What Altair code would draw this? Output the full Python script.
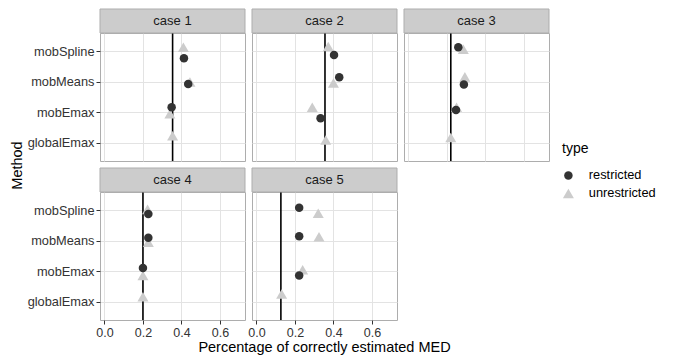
import altair as alt
import pandas as pd

# ---------------- data ----------------
cases = ["case 1", "case 2", "case 3", "case 4", "case 5"]
methods = ["globalEmax", "mobEmax", "mobMeans", "mobSpline"]   # bottom -> top
types = ["restricted", "unrestricted"]
ref_med = [0.354, 0.356, 0.22, 0.20, 0.127]

# unrestricted: one value per method (globalEmax, mobEmax, mobMeans, mobSpline)
unrestricted_value = [
    [0.354, 0.340, 0.444, 0.410],
    [0.360, 0.290, 0.400, 0.373],
    [0.220, 0.250, 0.293, 0.285],
    [0.200, 0.200, 0.228, 0.224],
    [0.131, 0.240, 0.325, 0.321],
]
unrestricted_jitter = [
    [0.23, -0.05, -0.01, 0.13],
    [0.09, 0.16, -0.04, 0.16],
    [0.17, 0.16, 0.16, 0.07],
    [0.16, -0.14, -0.05, 0.03],
    [0.25, 0.05, 0.13, -0.10],
]
# restricted: methods mobEmax, mobMeans, mobSpline (no globalEmax)
restricted_value = [
    [0.349, 0.435, 0.413],
    [0.333, 0.430, 0.403],
    [0.247, 0.288, 0.259],
    [0.200, 0.228, 0.228],
    [0.222, 0.222, 0.222],
]
restricted_jitter = [
    [0.16, -0.07, -0.23],
    [-0.20, 0.15, -0.12],
    [0.07, -0.09, 0.13],
    [0.11, 0.10, -0.12],
    [-0.14, 0.15, 0.08],
]
x_grid_values = [0.0, 0.1, 0.2, 0.3, 0.4, 0.5, 0.6, 0.7]

rows = []
for ci, c in enumerate(cases):
    for mi, m in enumerate(methods):
        rows.append(dict(case=c, method=m, type="unrestricted",
                         value=unrestricted_value[ci][mi],
                         ypos=mi + 1 + unrestricted_jitter[ci][mi]))
    for mi, m in enumerate(methods[1:]):
        rows.append(dict(case=c, method=m, type="restricted",
                         value=restricted_value[ci][mi],
                         ypos=mi + 2 + restricted_jitter[ci][mi]))
df = pd.DataFrame(rows)
ref_df = pd.DataFrame({"case": cases, "med": ref_med})

# ---------------- styling ----------------
PW, PH, STRIP = 145, 128, 24
FONT = "Liberation Sans"
minor_test = "round(datum.value*10) % 2 == 1"
label_expr_y = "[''," + ",".join("'%s'" % m for m in methods) + "][datum.value]"

color_scale = alt.Scale(domain=types, range=["#333333", "#CCCCCC"])
shape_scale = alt.Scale(domain=types, range=["circle", "triangle-up"])
size_scale = alt.Scale(domain=types, range=[72, 121])
legend = alt.Legend(title="type", orient="none", legendX=462, legendY=109,
                    titleFontSize=14, labelFontSize=12.8, titleFont=FONT,
                    labelFont=FONT, titleColor="black", labelColor="black",
                    rowPadding=4, titlePadding=13, symbolStrokeWidth=0,
                    labelOffset=14,
                    titleFontWeight="normal")


def panel(i):
    c = cases[i]
    d = df[df.case == c]
    r = ref_df[ref_df.case == c]
    show_y = i in (0, 3)
    show_x = i in (3, 4)

    x_kwargs = dict(
        values=x_grid_values,
        labelExpr="(round(datum.value*10) % 2 == 1) ? '' : format(datum.value, '.1f')",
        grid=True, domain=False,
        gridColor={"condition": {"test": minor_test, "value": "#F3F3F3"}, "value": "#E3E3E3"},
        labels=show_x, ticks=show_x,
        tickColor={"condition": {"test": minor_test, "value": "transparent"}, "value": "#333333"},
        tickSize=4, labelFontSize=12.5, labelColor="#333333", labelFont=FONT,
        labelPadding=2,
    )
    if i == 3:
        x_kwargs.update(title="Percentage of correctly estimated MED", titleX=224,
                        titleFontSize=14.5, titleFont=FONT, titleFontWeight="normal",
                        titleColor="black", titlePadding=2)
    else:
        x_kwargs.update(title=None)

    y_kwargs = dict(
        values=[1, 2, 3, 4], labelExpr=label_expr_y, grid=True, domain=False,
        gridColor="#E3E3E3", labels=show_y, ticks=show_y, tickSize=4,
        tickColor="#333333", labelFontSize=12.8, labelColor="#333333",
        labelFont=FONT, labelPadding=2,
    )
    if i == 0:
        y_kwargs.update(title="Method", titleY=132, titleFontSize=14.5,
                        titleFont=FONT, titleFontWeight="normal",
                        titleColor="black", titlePadding=3)
    else:
        y_kwargs.update(title=None)

    xenc = alt.X("value:Q", scale=alt.Scale(domain=[-0.023, 0.730], nice=False, zero=False),
                 axis=alt.Axis(**x_kwargs))
    yenc = alt.Y("ypos:Q", scale=alt.Scale(domain=[0.4, 4.6], nice=False, zero=False),
                 axis=alt.Axis(**y_kwargs))

    pts = alt.Chart(d).mark_point(filled=True, opacity=1, strokeWidth=0).encode(
        x=xenc, y=yenc,
        color=alt.Color("type:N", scale=color_scale, legend=legend),
        shape=alt.Shape("type:N", scale=shape_scale, legend=legend),
        size=alt.Size("type:N", scale=size_scale, legend=legend),
        order=alt.Order("type:N", sort="descending"),
    )
    rule = alt.Chart(r).mark_rule(color="black", strokeWidth=1.6).encode(x="med:Q")
    strip = alt.Chart(r).mark_rect(fill="#CCCCCC", stroke="#ADADAD", strokeWidth=1).encode(
        x=alt.value(0), x2=alt.value(PW), y=alt.value(-STRIP), y2=alt.value(0))
    strip_text = alt.Chart(r).mark_text(fontSize=13, font=FONT, color="#1A1A1A",
                                        baseline="middle", align="center").encode(
        x=alt.value(PW / 2), y=alt.value(-STRIP / 2), text="case:N")
    return alt.layer(rule, pts, strip, strip_text).properties(width=PW, height=PH)


chart = alt.concat(*[panel(i) for i in range(5)], columns=3,
                   spacing={"row": 7 + STRIP, "column": 7}, bounds="flush").properties(
    padding={"left": 0, "top": 0, "right": 5, "bottom": 2}
).configure_view(stroke="#ADADAD", strokeWidth=1)

chart.save("out.html", embed_options={"renderer": "svg", "actions": False})
